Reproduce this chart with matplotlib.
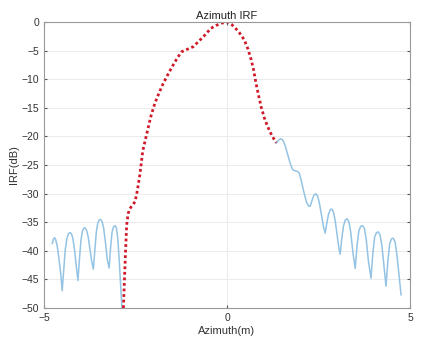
import numpy as np
import matplotlib.pyplot as plt

plt.rcParams['font.family'] = ['Liberation Sans', 'DejaVu Sans']

# left sidelobes
left_x = [-4.77, -4.74, -4.71, -4.68, -4.64, -4.59, -4.54, -4.50,
          -4.46, -4.42, -4.37, -4.33, -4.29, -4.25, -4.21, -4.16, -4.11, -4.07,
          -4.03, -3.99, -3.95, -3.91, -3.87, -3.83, -3.79, -3.74, -3.69, -3.65,
          -3.61, -3.57, -3.53, -3.49, -3.45, -3.41, -3.37, -3.32, -3.27, -3.22,
          -3.18, -3.14, -3.10, -3.06, -3.02, -2.98, -2.94, -2.90, -2.87]
left_y = [-38.7, -38.0, -37.7, -38.0, -39.0, -41.3, -44.0, -47.0,
          -43.5, -40.0, -37.8, -37.0, -36.8, -37.0, -37.8, -40.0, -43.0, -45.2,
          -41.5, -38.3, -36.6, -36.0, -36.0, -36.5, -37.6, -39.8, -42.0, -43.2,
          -40.0, -36.8, -35.2, -34.6, -34.5, -34.9, -36.0, -38.5, -41.5, -43.0,
          -39.5, -36.8, -35.8, -35.6, -36.0, -38.0, -42.0, -46.5, -50.0]

# main lobe
main_x = [-2.83, -2.80, -2.77, -2.74, -2.70, -2.65, -2.58, -2.51, -2.45, -2.38, -2.30, -2.19, -2.08,
          -1.97, -1.85, -1.74, -1.60, -1.47, -1.35, -1.24, -1.10, -0.92, -0.78, -0.65, -0.54, -0.44,
          -0.30, -0.15, 0.02, 0.12, 0.22, 0.33, 0.47, 0.57, 0.66, 0.73, 0.79, 0.86, 0.93, 1.02, 1.11,
          1.22, 1.34]
main_y = [-50.0, -45.0, -40.0, -35.5, -33.5, -32.6, -32.0, -31.4, -29.5, -26.7, -22.5, -19.5, -16.5,
          -14.2, -12.3, -10.7, -9.0, -7.5, -6.2, -5.2, -4.8, -4.3, -3.4, -2.6, -1.8, -1.1,
          -0.6, -0.2, 0.0, -0.4, -1.0, -1.8, -3.1, -4.7, -6.6, -8.5, -10.7, -12.8, -14.8, -16.8, -18.3,
          -19.8, -21.1]

# right sidelobes
right_x = [1.34, 1.40, 1.46, 1.52, 1.58, 1.64, 1.72, 1.79, 1.85, 1.92, 1.97, 2.03, 2.10, 2.17, 2.23,
           2.27, 2.32, 2.37, 2.42, 2.47, 2.52, 2.58, 2.64, 2.68,
           2.72, 2.77, 2.82, 2.86, 2.90, 2.95, 3.01, 3.06, 3.09,
           3.13, 3.18, 3.23, 3.28, 3.33, 3.38, 3.44, 3.50,
           3.55, 3.60, 3.65, 3.70, 3.75, 3.80, 3.86, 3.93,
           3.98, 4.03, 4.08, 4.13, 4.18, 4.23, 4.29, 4.34,
           4.39, 4.44, 4.49, 4.54, 4.59, 4.64, 4.70, 4.75]
right_y = [-21.2, -20.7, -20.4, -20.6, -21.5, -22.8, -24.6, -25.8, -26.0, -26.1, -26.4, -27.8, -29.8,
           -31.5, -32.2, -32.2, -31.2, -30.3, -30.0, -30.4, -31.6, -33.8, -36.0, -36.9,
           -35.3, -33.6, -32.8, -32.7, -33.1, -34.6, -37.5, -39.8, -40.6,
           -38.0, -35.6, -34.6, -34.4, -35.0, -36.9, -40.5, -43.1,
           -39.0, -36.5, -35.7, -35.6, -36.1, -38.0, -41.8, -44.8,
           -40.5, -37.6, -36.8, -36.7, -37.3, -39.2, -43.0, -46.2,
           -41.8, -38.8, -37.9, -37.8, -38.5, -40.8, -44.5, -47.7]

fig = plt.figure(figsize=(4.22, 3.5), dpi=100)
ax = fig.add_axes([0.104, 0.12, 0.868, 0.817])

blue = '#94c3e4'
ax.plot(left_x, left_y, color=blue, lw=1.1)
ax.plot(right_x, right_y, color=blue, lw=1.1)
ax.plot(main_x, main_y, color='#d01a2a', lw=2.0, linestyle=(0, (1, 1)))

ax.set_xlim(-5, 5)
ax.set_ylim(-50, 0)
ax.set_xticks([-5, 0, 5])
ax.set_yticks(np.arange(-50, 1, 5))
ax.grid(True, color='#ebebeb', lw=0.7)
ax.set_axisbelow(True)
ax.tick_params(direction='in', length=2.5, labelsize=7.5, colors='#555555',
               top=True, right=True, labelcolor='#333333')
for s in ax.spines.values():
    s.set_color('#999999')
    s.set_linewidth(0.8)

ax.set_title('Azimuth IRF', fontsize=8, color='#222222', pad=2)
ax.set_xlabel('Azimuth(m)', fontsize=8, color='#333333', labelpad=2)
ax.set_ylabel('IRF(dB)', fontsize=8, color='#333333', labelpad=2)

fig.savefig('out.png', dpi=100)
